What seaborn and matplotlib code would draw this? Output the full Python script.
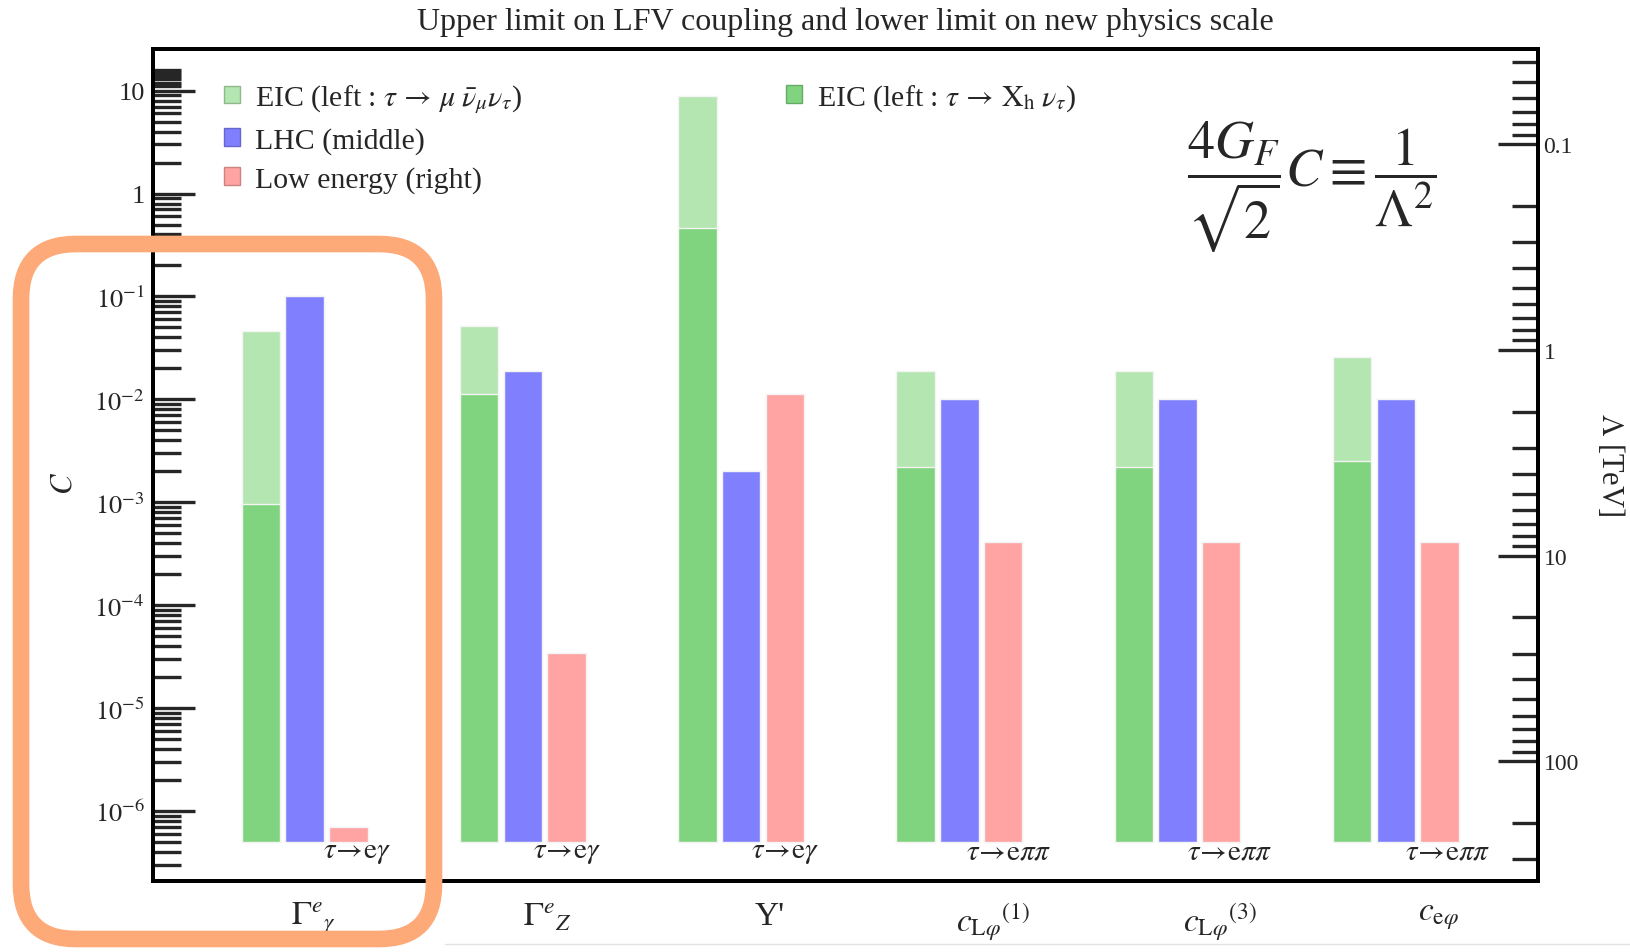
import numpy as np
import pandas as pd
import matplotlib
matplotlib.use("Agg")
import matplotlib.pyplot as plt
import seaborn as sns
from matplotlib.patches import Patch, FancyBboxPatch
from matplotlib.lines import Line2D
from matplotlib.ticker import FixedLocator, FuncFormatter, NullFormatter, LogLocator

# ---------------- data ----------------
groups = ["G_gamma", "G_Z", "Yp", "cLphi1", "cLphi3", "cephi"]
group_labels = [r"$\Gamma^{e}{}_{\gamma}$", r"$\Gamma^{e}{}_{Z}$", "Y'",
                r"$c_{\mathrm{L}\varphi}{}^{(1)}$", r"$c_{\mathrm{L}\varphi}{}^{(3)}$",
                r"$c_{\mathrm{e}\varphi}$"]
process_labels = [r"$\tau\!\rightarrow\!\mathrm{e}\gamma$"] * 3 + [r"$\tau\!\rightarrow\!\mathrm{e}\pi\pi$"] * 3

eic_mu = [0.046, 0.052, 8.9, 0.019, 0.019, 0.026]       # EIC tau -> mu nu nu (light green)
eic_h = [0.00097, 0.0112, 0.46, 0.0022, 0.0022, 0.0025]  # EIC tau -> X_h nu (dark green)
lhc = [0.1, 0.019, 0.002, 0.01, 0.01, 0.01]               # LHC
low_energy = [6.9e-7, 3.4e-5, 0.0112, 4.1e-4, 4.1e-4, 4.1e-4]  # low energy

BASE = 5e-7
YMIN, YMAX = 2.1e-7, 25.4
G_F = 11.6638  # TeV^-2
K = 4 * G_F / np.sqrt(2)

def lam(c):
    return 1.0 / np.sqrt(K * np.asarray(c))

# ---------------- style ----------------
sns.set_style("white")
plt.rcParams["font.family"] = ["Liberation Serif", "DejaVu Serif"]
plt.rcParams["mathtext.fontset"] = "stix"

c_light = "#B3E6B0"
c_dark = "#80D47F"
c_blue = "#8080FF"
c_pink = "#FFA3A3"

fig = plt.figure(figsize=(16.3, 9.53), dpi=100)
ax = fig.add_axes([153 / 1630, 1 - 881.6 / 953, (1538 - 153) / 1630, (881.6 - 50) / 953])

def long_frame(eic_values):
    return pd.DataFrame({
        "group": np.repeat(groups, 3),
        "series": ["EIC", "LHC", "Low"] * len(groups),
        "value": np.ravel(np.column_stack([eic_values, lhc, low_energy])),
    })

bar_kw = dict(x="group", y="value", hue="series", order=groups,
              hue_order=["EIC", "LHC", "Low"], width=0.6, gap=0.12,
              errorbar=None, legend=False, ax=ax, saturation=1,
              edgecolor="#F4F4F4", linewidth=1.0)
# EIC (tau -> mu nu nu) with LHC and low energy
sns.barplot(data=long_frame(eic_mu),
            palette={"EIC": c_light, "LHC": c_blue, "Low": c_pink}, **bar_kw)
# EIC (tau -> X_h nu) drawn over it (LHC / low energy are redrawn identically)
sns.barplot(data=long_frame(eic_h),
            palette={"EIC": c_dark, "LHC": c_blue, "Low": c_pink}, **bar_kw)

# bars start at BASE on the log axis
for p in ax.patches:
    h = p.get_height()
    if np.isfinite(h) and h > 0:
        p.set_y(BASE)
        p.set_height(h - BASE)

ax.set_yscale("log")
ax.set_ylim(YMIN, YMAX)
ax.set_xlim(-0.695, 5.652)
ax.set_xlabel("")
ax.set_ylabel("")

# left ticks
majors = [10.0 ** k for k in range(-6, 2)]
minors = [m * 10.0 ** k for k in range(-7, 1) for m in range(2, 10)] + [11, 12, 13, 14, 15, 16]
ax.yaxis.set_major_locator(FixedLocator(majors))
ax.yaxis.set_minor_locator(FixedLocator(minors))

def cfmt(v, pos):
    k = int(round(np.log10(v)))
    if k == 1:
        return "10"
    if k == 0:
        return "1"
    return r"$10^{%d}$" % k

ax.yaxis.set_major_formatter(FuncFormatter(cfmt))
ax.yaxis.set_minor_formatter(NullFormatter())
ax.tick_params(axis="y", which="major", direction="in", length=30, width=2.4,
               labelsize=19, pad=6, left=True, right=False)
ax.tick_params(axis="y", which="minor", direction="in", length=20, width=2.4,
               left=True, right=False)

# x labels
label_offsets = [0.04, 0.11, 0.13, 0.155, 0.195, 0.195]
ax.set_xticks(np.arange(len(groups)) + np.array(label_offsets), labels=group_labels)
ax.tick_params(axis="x", length=0, labelsize=24, pad=14)

# process labels
proc_offsets = [0.24, 0.2, 0.2, 0.225, 0.24, 0.24]
for i, (lab, off) in enumerate(zip(process_labels, proc_offsets)):
    ax.text(i + off, 4.0e-7, lab, ha="center", va="center", fontsize=21)

for s in ax.spines.values():
    s.set_linewidth(2.8)
    s.set_color("black")
    s.set_visible(True)

# right axis: Lambda [TeV]
ax2 = ax.twinx()
ax2.set_yscale("log")
ax2.set_ylim(lam(YMIN), lam(YMAX))
ax2.yaxis.set_major_locator(LogLocator(base=10))
ax2.yaxis.set_minor_locator(LogLocator(base=10, subs=np.arange(2, 10)))
ax2.yaxis.set_major_formatter(FuncFormatter(lambda v, p: f"{v:g}"))
ax2.yaxis.set_minor_formatter(NullFormatter())
ax2.tick_params(axis="y", which="major", direction="in", length=29, width=2.4,
                labelsize=17, pad=4)
ax2.tick_params(axis="y", which="minor", direction="in", length=19, width=2.4)
for s in ax2.spines.values():
    s.set_linewidth(2.8)
    s.set_color("black")

# legends
h_mu = Patch(facecolor=c_light, edgecolor="#8FB88C", lw=1.0,
             label=r"EIC (left : $\tau\,\rightarrow\,\mu\;\bar{\nu}_{\mu}\nu_{\tau}$)")
h_lhc = Patch(facecolor=c_blue, edgecolor="#6666CC", lw=1.0, label="LHC (middle)")
h_low = Patch(facecolor=c_pink, edgecolor="#CC8282", lw=1.0, label="Low energy (right)")
h_h = Patch(facecolor=c_dark, edgecolor="#66AA66", lw=1.0,
            label=r"EIC (left : $\tau\,\rightarrow\,\mathrm{X}_{\mathrm{h}}\;\nu_{\tau}$)")

leg_kw = dict(frameon=False, fontsize=21.5, handlelength=0.55, handleheight=0.55,
              handletextpad=0.5, labelspacing=0.4, borderpad=0, borderaxespad=0,
              loc="upper left")
leg1 = ax2.legend(handles=[h_mu, h_lhc, h_low], bbox_to_anchor=(0.051, 0.96), **leg_kw)
ax2.add_artist(leg1)
ax2.legend(handles=[h_h], bbox_to_anchor=(0.457, 0.96), **leg_kw)

# formula
fig.text(1312 / 1630, 1 - 187 / 953,
         r"$\dfrac{4G_F}{\sqrt{2}}C \equiv \dfrac{1}{\Lambda^2}$",
         fontsize=39, ha="center", va="center")

# axis labels and title
fig.text(64 / 1630, 1 - 483 / 953, r"$C$", rotation=90, fontsize=22, ha="center", va="center")
fig.text(1611 / 1630, 1 - 465 / 953, r"$\Lambda$ [TeV]", rotation=270, fontsize=22,
         ha="center", va="center")
fig.text(845 / 1630, 1 - 22 / 953,
         "Upper limit on LFV coupling and lower limit on new physics scale",
         fontsize=23, ha="center", va="center")

# highlight box around first group
box = FancyBboxPatch((21 / 100, (953 - 940) / 100), (434 - 21) / 100, (940 - 245) / 100,
                     boxstyle="round,pad=0,rounding_size=0.55",
                     transform=fig.dpi_scale_trans, fill=False,
                     edgecolor="#FDA978", linewidth=12, zorder=10)
fig.add_artist(box)
fig.add_artist(Line2D([445 / 1630, 1.0], [1 - 945 / 953, 1 - 945 / 953],
                      transform=fig.transFigure, color="#E2E2E2", lw=1.0))

fig.savefig("out.png", dpi=100)
